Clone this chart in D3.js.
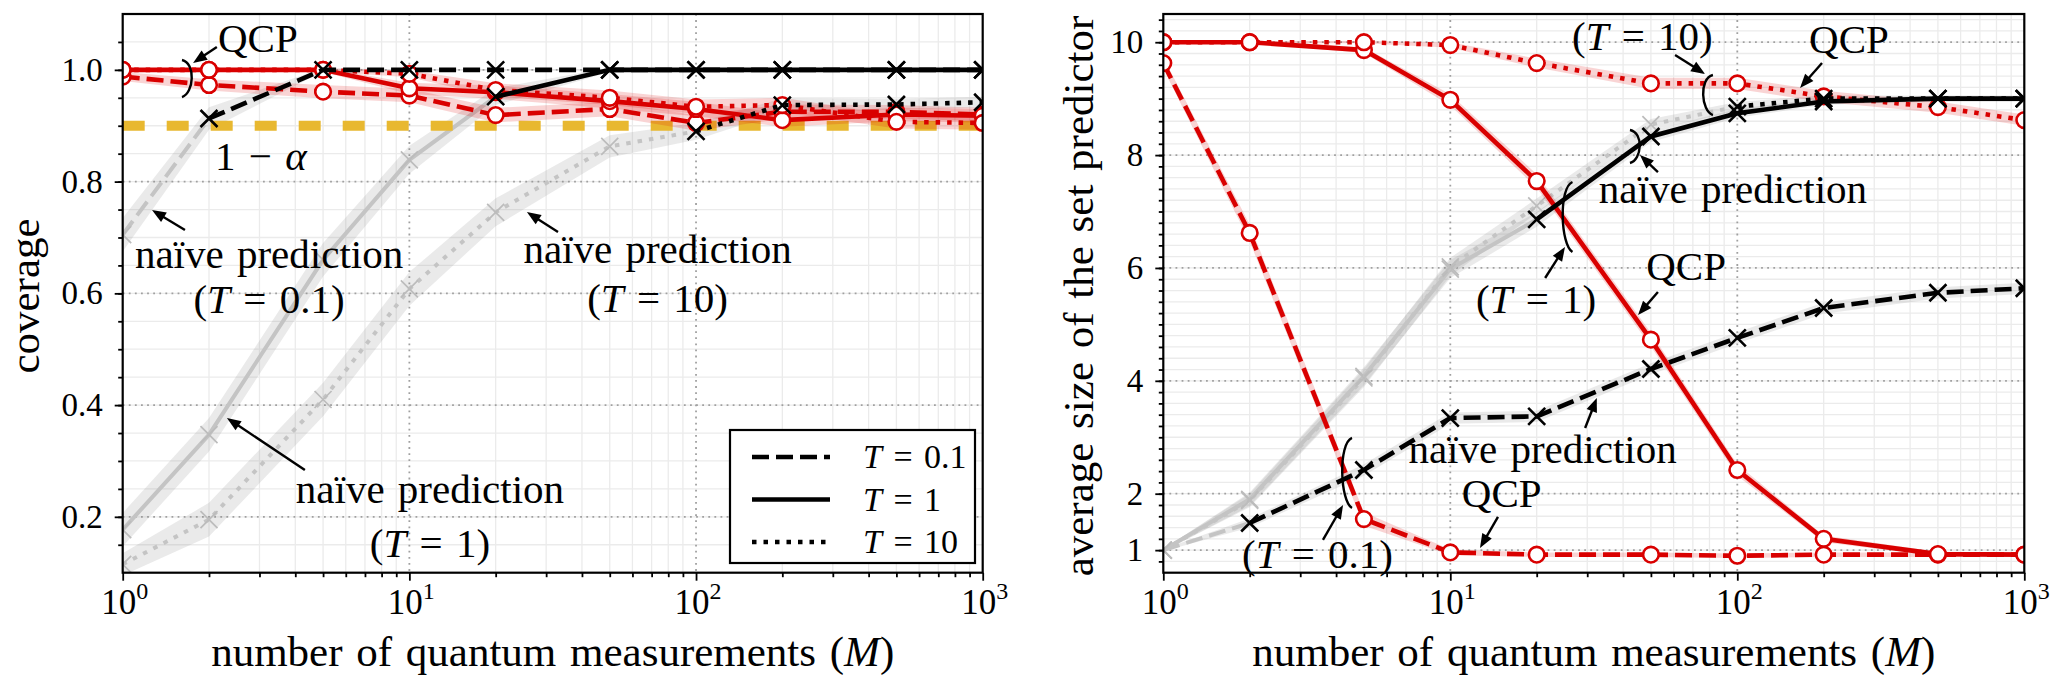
<!DOCTYPE html>
<html><head><meta charset="utf-8">
<script src="https://cdn.jsdelivr.net/npm/d3@7"></script>
<style>
body{margin:0;background:#fff}
svg{display:block}
text{font-family:"Liberation Serif","Tinos","Times New Roman","DejaVu Serif",serif !important;fill:#000;white-space:pre}
</style>
</head><body>
<svg id="c" width="2053" height="682"></svg>
<script>
// ---------------- data ----------------
const M = [1, 2, 5, 10, 20, 50, 100, 200, 500, 1000];
const alpha = 0.1;
const tLabels = ["0.1", "1", "10"];
const xTickExps = [0, 1, 2, 3];
const covYTicks = [0.2, 0.4, 0.6, 0.8, 1.0];
const sizeYTicks = [1, 2, 4, 6, 8, 10];

// coverage (left)
const covQCP_T01 = [0.988, 0.973, 0.961, 0.954, 0.919, 0.930, 0.905, 0.925, 0.925, 0.920];
const covQCP_T1  = [1.000, 1.000, 1.000, 0.967, 0.960, 0.944, 0.930, 0.910, 0.920, 0.918];
const covQCP_T10 = [1.000, 1.000, 1.000, 0.993, 0.964, 0.950, 0.934, 0.937, 0.907, 0.905];
const covNaive_T01 = [0.705, 0.913, 1.000, 1.000, 1.000, 1.000, 1.000, 1.000, 1.000, 1.000];
const covNaive_T1  = [0.177, 0.347, 0.660, 0.839, 0.952, 1.000, 1.000, 1.000, 1.000, 1.000];
const covNaive_T10 = [0.115, 0.195, 0.410, 0.608, 0.745, 0.863, 0.890, 0.937, 0.938, 0.942];
// half-widths of shaded bands
const covQCPBand_T01 = [0.008, 0.010, 0.012, 0.012, 0.013, 0.013, 0.014, 0.013, 0.012, 0.012];
const covQCPBand_T1  = [0.002, 0.003, 0.004, 0.010, 0.012, 0.013, 0.013, 0.012, 0.012, 0.012];
const covQCPBand_T10 = [0.001, 0.002, 0.003, 0.006, 0.012, 0.013, 0.013, 0.013, 0.012, 0.012];
const covNaiveBand_T01 = [0.030, 0.020, 0.003, 0.001, 0.001, 0.001, 0.001, 0.001, 0.001, 0.001];
const covNaiveBand_T1  = [0.030, 0.030, 0.030, 0.025, 0.015, 0.004, 0.001, 0.001, 0.001, 0.001];
const covNaiveBand_T10 = [0.020, 0.030, 0.030, 0.030, 0.025, 0.020, 0.015, 0.012, 0.010, 0.010];

// average set size (right)
const sizeQCP_T01 = [9.63, 6.62, 1.55, 0.96, 0.92, 0.92, 0.90, 0.92, 0.92, 0.92];
const sizeQCP_T1  = [10.0, 10.0, 9.86, 8.98, 7.54, 4.73, 2.42, 1.20, 0.93, 0.92];
const sizeQCP_T10 = [10.0, 10.0, 10.0, 9.95, 9.63, 9.27, 9.27, 9.04, 8.85, 8.62];
const sizeNaive_T01 = [1.00, 1.48, 2.42, 3.34, 3.37, 4.21, 4.76, 5.29, 5.56, 5.64];
const sizeNaive_T1  = [1.00, 1.90, 4.08, 5.98, 6.86, 8.33, 8.74, 8.95, 9.00, 9.00];
const sizeNaive_T10 = [1.00, 1.88, 4.05, 6.02, 7.10, 8.54, 8.86, 9.00, 9.00, 9.00];
const sizeQCPBand_T01 = [0.10, 0.15, 0.12, 0.05, 0.04, 0.04, 0.04, 0.04, 0.04, 0.04];
const sizeQCPBand_T1  = [0.02, 0.02, 0.05, 0.10, 0.12, 0.12, 0.10, 0.06, 0.04, 0.04];
const sizeQCPBand_T10 = [0.02, 0.02, 0.02, 0.05, 0.08, 0.10, 0.10, 0.10, 0.10, 0.10];
const sizeNaiveBand_T01 = [0.02, 0.08, 0.10, 0.10, 0.10, 0.10, 0.10, 0.10, 0.10, 0.10];
const sizeNaiveBand_T1  = [0.02, 0.12, 0.16, 0.16, 0.13, 0.10, 0.08, 0.06, 0.05, 0.05];
const sizeNaiveBand_T10 = [0.02, 0.12, 0.16, 0.16, 0.13, 0.10, 0.08, 0.06, 0.05, 0.05];

// ---------------- styles ----------------
const FONT = '"Liberation Serif","Tinos","Times New Roman","DejaVu Serif",serif';
const RED = "#d90000";
const GOLD = "#e8b830";
const DASH = {dashed: "17,7", solid: null, dotted: "4.5,7"};
const tStyles = ["dashed", "solid", "dotted"];
const LW = 4.6;

// index from which the naive line is drawn black (coverage reached ~ 1-alpha)
const naiveCov = [covNaive_T01, covNaive_T1, covNaive_T10];
const validFrom = naiveCov.map(a => a.findIndex(v => v >= 1 - alpha - 0.015));

const svg = d3.select("#c");
const defs = svg.append("defs");

function mtext(g, x, y, parts, size, anchor) {
  const t = g.append("text").attr("x", x).attr("y", y)
    .attr("font-size", size).attr("text-anchor", anchor || "middle")
    .attr("font-family", FONT)
    .style("word-spacing", "3px");
  parts.forEach(p => {
    const s = t.append("tspan").text(p[0]);
    if (p[1]) s.attr("font-style", "italic");
  });
  return t;
}
function arrow(g, x1, y1, x2, y2) {
  const dx = x2 - x1, dy = y2 - y1, L = Math.hypot(dx, dy), ux = dx / L, uy = dy / L;
  const hl = 14, hw = 5.5, bx = x2 - ux * hl, by = y2 - uy * hl;
  g.append("line").attr("x1", x1).attr("y1", y1).attr("x2", bx + ux * 3).attr("y2", by + uy * 3)
    .attr("stroke", "#000").attr("stroke-width", 2.4);
  g.append("path").attr("d", `M${x2},${y2}L${bx - uy * hw},${by + ux * hw}L${bx + uy * hw},${by - ux * hw}Z`)
    .attr("fill", "#000");
}
function brace(g, cx, yt, yb, dir) {
  const h = yb - yt;
  g.append("path")
    .attr("d", `M${cx - dir * 5},${yt} C${cx + dir * 9},${yt + h * 0.08} ${cx + dir * 7},${yb - h * 0.1} ${cx - dir * 5},${yb}`)
    .attr("fill", "none").attr("stroke", "#000").attr("stroke-width", 2.4);
}
function xMark(g, cx, cy, s, color, w) {
  g.append("path").attr("d", `M${cx - s},${cy - s}L${cx + s},${cy + s}M${cx - s},${cy + s}L${cx + s},${cy - s}`)
    .attr("stroke", color).attr("stroke-width", w).attr("fill", "none");
}

function panel(p) {
  const x = d3.scaleLog().domain([1, 1000]).range([p.left, p.right]);
  const y = d3.scaleLinear().domain(p.yDomain).range([p.bottom, p.top]);
  const W = p.right - p.left, H = p.bottom - p.top;
  const g = svg.append("g");
  defs.append("clipPath").attr("id", "clip" + p.id).append("rect")
    .attr("x", p.left).attr("y", p.top).attr("width", W).attr("height", H);

  // minor grid
  const xMinor = [];
  [1, 10, 100].forEach(d => { for (let k = 2; k < 10; k++) xMinor.push(d * k); });
  const nMin = Math.round((p.yDomain[1] - p.yMinorStart) / p.yMinorStep);
  const yMinor = d3.range(0, nMin + 1).map(i => +(p.yMinorStart + i * p.yMinorStep).toFixed(4))
    .filter(v => v > p.yDomain[0] && v < p.yDomain[1]);
  const grid = g.append("g");
  grid.selectAll(".mx").data(xMinor).join("line").attr("x1", x).attr("x2", x)
    .attr("y1", p.top).attr("y2", p.bottom).attr("stroke", "#ebebeb").attr("stroke-width", 1.3);
  grid.selectAll(".my").data(yMinor).join("line").attr("y1", y).attr("y2", y)
    .attr("x1", p.left).attr("x2", p.right).attr("stroke", "#ebebeb").attr("stroke-width", 1.3);
  grid.selectAll(".Mx").data([10, 100]).join("line").attr("x1", x).attr("x2", x)
    .attr("y1", p.top).attr("y2", p.bottom).attr("stroke", "#a0a0a0").attr("stroke-width", 1.8)
    .attr("stroke-dasharray", "1.8,4.3");
  grid.selectAll(".My").data(p.yTicks).join("line").attr("y1", y).attr("y2", y)
    .attr("x1", p.left).attr("x2", p.right).attr("stroke", "#a0a0a0").attr("stroke-width", 1.8)
    .attr("stroke-dasharray", "1.8,4.3");

  const plot = g.append("g").attr("clip-path", `url(#clip${p.id})`);
  const line = d3.line().x(d => x(d[0])).y(d => y(d[1]));
  const area = d3.area().x(d => x(d[0])).y0(d => y(d[1] - d[2])).y1(d => y(d[1] + d[2]));
  const pts = (v, b) => M.map((m, i) => [m, v[i], b[i]]);

  // naive bands
  p.naive.forEach(s => plot.append("path").attr("d", area(pts(s.v, s.b))).attr("fill", "rgba(140,140,140,0.18)"));
  // gray naive portions
  p.naive.forEach((s, j) => {
    const k = validFrom[j], P = pts(s.v, s.b);
    if (k > 0) {
      plot.append("path").attr("d", line(P.slice(0, k + 1))).attr("fill", "none")
        .attr("stroke", "#c4c4c4").attr("stroke-width", 4).attr("stroke-dasharray", DASH[tStyles[j]]);
      P.slice(0, k).forEach(d => xMark(plot, x(d[0]), y(d[1]), 8.5, "#bcbcbc", 1.7));
    }
  });
  if (p.gold) {
    plot.append("line").attr("x1", p.left).attr("x2", p.right)
      .attr("y1", y(1 - alpha)).attr("y2", y(1 - alpha))
      .attr("stroke", GOLD).attr("stroke-width", 10).attr("stroke-dasharray", "22,22");
  }
  // QCP red
  p.qcp.forEach(s => plot.append("path").attr("d", area(pts(s.v, s.b))).attr("fill", "rgba(217,0,0,0.17)"));
  p.qcp.forEach((s, j) => {
    plot.append("path").attr("d", line(pts(s.v, s.b))).attr("fill", "none")
      .attr("stroke", RED).attr("stroke-width", LW).attr("stroke-dasharray", DASH[tStyles[j]]);
  });
  p.qcp.forEach(s => {
    plot.selectAll(null).data(pts(s.v, s.b)).join("circle")
      .attr("cx", d => x(d[0])).attr("cy", d => y(d[1])).attr("r", 7.8)
      .attr("fill", "#fff").attr("stroke", RED).attr("stroke-width", 2.6);
  });
  // naive black portions
  p.naive.forEach((s, j) => {
    const k = validFrom[j], P = pts(s.v, s.b).slice(k);
    plot.append("path").attr("d", line(P)).attr("fill", "none")
      .attr("stroke", "#000").attr("stroke-width", LW).attr("stroke-dasharray", DASH[tStyles[j]]);
    P.forEach(d => xMark(plot, x(d[0]), y(d[1]), 8.5, "#000", 2.6));
  });

  // axes
  const ax = g.append("g");
  ax.append("g").attr("transform", `translate(0,${p.bottom})`)
    .call(d3.axisBottom(x).tickValues(xTickExps.map(e => Math.pow(10, e))).tickSize(8).tickSizeOuter(0).tickFormat(""));
  ax.append("g").attr("transform", `translate(0,${p.bottom})`)
    .call(d3.axisBottom(x).tickValues(xMinor).tickSize(4.5).tickSizeOuter(0).tickFormat(""));
  ax.append("g").attr("transform", `translate(${p.left},0)`)
    .call(d3.axisLeft(y).tickValues(p.yTicks).tickSize(8).tickSizeOuter(0).tickPadding(12).tickFormat(p.fmt));
  ax.append("g").attr("transform", `translate(${p.left},0)`)
    .call(d3.axisLeft(y).tickValues(yMinor).tickSize(4.5).tickSizeOuter(0).tickFormat(""));
  ax.selectAll("g").attr("font-family", FONT);
  ax.selectAll(".domain").remove();
  ax.selectAll(".tick line").attr("stroke", "#000").attr("stroke-width", 1.8);
  ax.selectAll(".tick text").attr("font-size", 33).attr("font-family", FONT).attr("fill", "#000");
  xTickExps.forEach(e => {
    const t = ax.append("text").attr("x", x(Math.pow(10, e)) + 2).attr("y", p.bottom + 41)
      .attr("font-size", 35).attr("font-family", FONT).attr("text-anchor", "middle");
    t.append("tspan").text("10");
    t.append("tspan").text(String(e)).attr("font-size", 24).attr("dy", -15);
  });
  g.append("rect").attr("x", p.left).attr("y", p.top).attr("width", W).attr("height", H)
    .attr("fill", "none").attr("stroke", "#000").attr("stroke-width", 2.2);

  // axis labels
  mtext(g, (p.left + p.right) / 2, 666, [["number of quantum measurements ("], ["M", 1], [")"]], 43, "middle");
  mtext(g, 0, 0, [[p.yLabel]], 43, "middle").attr("transform", `translate(${p.yLabelX},296) rotate(-90)`);

  // annotations
  const an = g.append("g");
  p.texts.forEach(a => mtext(an, x(a.x), y(a.y), a.t, 41, a.anchor || "middle"));
  p.arrows.forEach(a => arrow(an, x(a[0]), y(a[1]), x(a[2]), y(a[3])));
  p.braces.forEach(b => brace(an, x(b[0]), y(b[1]), y(b[2]), b[3]));
  return {x, y, g};
}

const Tm = s => [["("], ["T", 1], [" = " + s + ")"]];

const left = panel({
  id: "L", left: 122.7, right: 982.7, top: 14, bottom: 572.7,
  yDomain: [0.1, 1.1], yTicks: covYTicks, yMinorStart: 0.1, yMinorStep: 0.05,
  fmt: d3.format(".1f"), yLabel: "coverage", yLabelX: 39, gold: true,
  qcp: [{v: covQCP_T01, b: covQCPBand_T01}, {v: covQCP_T1, b: covQCPBand_T1}, {v: covQCP_T10, b: covQCPBand_T10}],
  naive: [{v: covNaive_T01, b: covNaiveBand_T01}, {v: covNaive_T1, b: covNaiveBand_T1}, {v: covNaive_T10, b: covNaiveBand_T10}],
  texts: [
    {t: [["QCP"]], x: 2.15, y: 1.032, anchor: "start"},
    {t: [["1 − "], ["α", 1]], x: 2.10, y: 0.8208, anchor: "start"},
    {t: [["naïve prediction"]], x: 3.24, y: 0.6454},
    {t: Tm(tLabels[0]), x: 3.24, y: 0.5648},
    {t: [["naïve prediction"]], x: 73.4, y: 0.6543},
    {t: Tm(tLabels[2]), x: 73.4, y: 0.5672},
    {t: [["naïve prediction"]], x: 11.8, y: 0.2247},
    {t: Tm(tLabels[1]), x: 11.8, y: 0.1286}
  ],
  arrows: [[2.13, 1.041, 1.76, 1.0123], [1.649, 0.7134, 1.265, 0.7492], [33.0, 0.7098, 25.7, 0.7456], [4.32, 0.2838, 2.31, 0.3769]],
  braces: [[1.676, 1.0177, 0.9514, 1]]
});

const right = panel({
  id: "R", left: 1163.3, right: 2024.3, top: 14, bottom: 572.7,
  yDomain: [0.6, 10.5], yTicks: sizeYTicks, yMinorStart: 0.6, yMinorStep: 0.2,
  fmt: d3.format("d"), yLabel: "average size of the set predictor", yLabelX: 1093, gold: false,
  qcp: [{v: sizeQCP_T01, b: sizeQCPBand_T01}, {v: sizeQCP_T1, b: sizeQCPBand_T1}, {v: sizeQCP_T10, b: sizeQCPBand_T10}],
  naive: [{v: sizeNaive_T01, b: sizeNaiveBand_T01}, {v: sizeNaive_T1, b: sizeNaiveBand_T1}, {v: sizeNaive_T10, b: sizeNaiveBand_T10}],
  texts: [
    {t: Tm(tLabels[2]), x: 46.7, y: 9.862},
    {t: [["QCP"]], x: 245, y: 9.804},
    {t: [["naïve prediction"]], x: 96.6, y: 7.151},
    {t: Tm(tLabels[1]), x: 19.9, y: 5.202},
    {t: [["QCP"]], x: 66.3, y: 5.787},
    {t: Tm(tLabels[0]), x: 3.445, y: 0.684},
    {t: [["naïve prediction"]], x: 20.96, y: 2.545},
    {t: [["QCP"]], x: 15.1, y: 1.765}
  ],
  arrows: [[60.7, 9.774, 77.2, 9.437], [197.3, 9.632, 165.4, 9.189], [52.9, 7.70, 45.8, 8.002], [21.4, 5.822, 25.1, 6.372],
           [52.9, 5.574, 45.1, 5.167], [3.60, 1.18, 4.23, 1.80], [29.5, 3.165, 32.4, 3.696], [14.66, 1.588, 12.69, 1.039]],
  braces: [[79.0, 9.419, 8.710, -1], [44.0, 8.445, 7.860, 1], [25.6, 7.523, 6.283, -1], [4.365, 2.988, 1.747, -1]]
});

// legend (left panel)
const lg = left.g.append("g");
lg.append("rect").attr("x", 730).attr("y", 430).attr("width", 245).attr("height", 133)
  .attr("fill", "#fff").attr("stroke", "#000").attr("stroke-width", 2.2);
tLabels.forEach((t, i) => {
  const yy = 457 + i * 42.5;
  lg.append("line").attr("x1", 752).attr("x2", 830).attr("y1", yy).attr("y2", yy)
    .attr("stroke", "#000").attr("stroke-width", LW).attr("stroke-dasharray", DASH[tStyles[i]]);
  mtext(lg, 863, yy + 11, [["T", 1], [" = " + t]], 34, "start");
});
</script>
</body></html>
